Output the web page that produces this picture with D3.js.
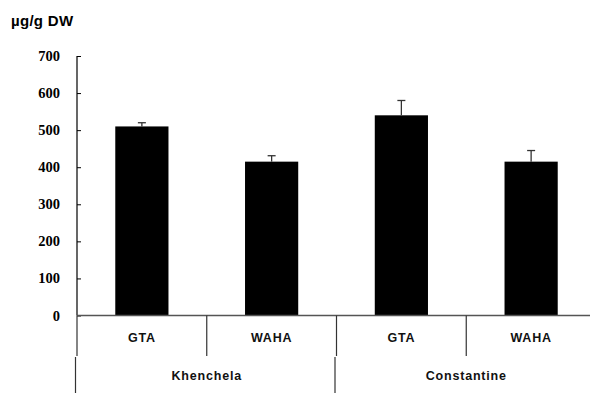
<!DOCTYPE html>
<html>
<head>
<meta charset="utf-8">
<script src="https://cdn.jsdelivr.net/npm/d3@7"></script>
<style>
  html, body { margin: 0; padding: 0; background: #fff; }
  svg { display: block; }
</style>
</head>
<body>
<svg id="chart" width="590" height="393"></svg>
<script>
// ---- Data ----
const groups = ["Khenchela", "Constantine"];
const varieties = ["GTA", "WAHA"];
const values = [510, 415, 540, 415];
const errors = [10, 16, 40, 30];
const yTicks = [0, 100, 200, 300, 400, 500, 600, 700];
const yLabel = "µg/g DW";

const rows = [];
groups.forEach((g, gi) => varieties.forEach((v, vi) => {
  const i = gi * varieties.length + vi;
  rows.push({ key: g + "|" + v, group: g, variety: v, value: values[i], err: errors[i] });
}));

const svg = d3.select("#chart");
const x0 = 77, x1 = 596, yBase = 315.5, yTop = 56;

const x = d3.scaleBand().domain(rows.map(d => d.key)).range([x0, x1])
  .paddingInner(0.59).paddingOuter(0.295);
const y = d3.scaleLinear().domain([0, 700]).range([yBase, yTop]);
const gx = d3.scaleBand().domain(groups).range([x0, x1]);

// Y label
svg.append("text").attr("x", 11).attr("y", 26)
  .attr("font-family", "'Liberation Sans', Arial, sans-serif")
  .attr("font-weight", "bold").attr("font-size", 15).attr("fill", "#000")
  .attr("letter-spacing", 0.3)
  .text(yLabel);

// Bars
svg.selectAll("rect.bar").data(rows).enter().append("rect")
  .attr("x", d => x(d.key)).attr("width", x.bandwidth())
  .attr("y", d => y(d.value)).attr("height", d => y(0) - y(d.value))
  .attr("fill", "#000");

// Error bars
const eb = svg.selectAll("g.err").data(rows).enter().append("g")
  .attr("stroke", "#333").attr("stroke-width", 1.3);
eb.append("line")
  .attr("x1", d => x(d.key) + x.bandwidth() / 2).attr("x2", d => x(d.key) + x.bandwidth() / 2)
  .attr("y1", d => y(d.value)).attr("y2", d => y(d.value + d.err));
eb.append("line")
  .attr("x1", d => x(d.key) + x.bandwidth() / 2 - 4).attr("x2", d => x(d.key) + x.bandwidth() / 2 + 4)
  .attr("y1", d => y(d.value + d.err)).attr("y2", d => y(d.value + d.err));

// Y axis (ticks pointing inward)
const yAxis = d3.axisRight(y).tickValues(yTicks).tickSize(4).tickFormat("");
const ya = svg.append("g").attr("transform", `translate(${x0},0)`).call(yAxis);
ya.select(".domain").remove();
ya.selectAll(".tick line").attr("stroke", "#000");
svg.append("line").attr("x1", x0).attr("x2", x0).attr("y1", y(700)).attr("y2", y(0))
  .attr("stroke", "#000").attr("stroke-width", 1.2);

// Y tick labels
svg.selectAll("text.ytl").data(yTicks).enter().append("text")
  .attr("x", 60).attr("y", d => y(d) + 5).attr("text-anchor", "end")
  .attr("font-family", "'Liberation Serif', 'Times New Roman', serif")
  .attr("font-weight", "bold").attr("font-size", 14.5).attr("fill", "#000")
  .text(d => d);

// X baseline
svg.append("line").attr("x1", x0).attr("x2", 590).attr("y1", yBase).attr("y2", yBase)
  .attr("stroke", "#555").attr("stroke-width", 1.3);

// Category dividers (variety level)
const step = x.step();
const subDiv = d3.range(rows.length + 1).map(i => x0 + i * step);
svg.selectAll("line.sub").data(subDiv).enter().append("line")
  .attr("x1", d => d).attr("x2", d => d).attr("y1", yBase).attr("y2", 356)
  .attr("stroke", "#333").attr("stroke-width", 1.2);

// Group dividers
const grpDiv = groups.map(g => gx(g)).concat([x1]);
svg.selectAll("line.grp").data(grpDiv).enter().append("line")
  .attr("x1", d => d - 1.5).attr("x2", d => d - 1.5).attr("y1", 357).attr("y2", 393)
  .attr("stroke", "#333").attr("stroke-width", 1.2);

// Variety labels
svg.selectAll("text.var").data(rows).enter().append("text")
  .attr("x", d => x(d.key) + x.bandwidth() / 2).attr("y", 342)
  .attr("text-anchor", "middle")
  .attr("font-family", "'Liberation Sans', Arial, sans-serif")
  .attr("font-weight", "bold").attr("font-size", 12.5).attr("letter-spacing", 0.8)
  .attr("fill", "#111")
  .text(d => d.variety);

// Group labels
svg.selectAll("text.grp").data(groups).enter().append("text")
  .attr("x", d => gx(d) + gx.bandwidth() / 2).attr("y", 380)
  .attr("text-anchor", "middle")
  .attr("font-family", "'Liberation Sans', Arial, sans-serif")
  .attr("font-weight", "bold").attr("font-size", 12.5).attr("letter-spacing", 0.8)
  .attr("fill", "#111")
  .text(d => d);
</script>
</body>
</html>
